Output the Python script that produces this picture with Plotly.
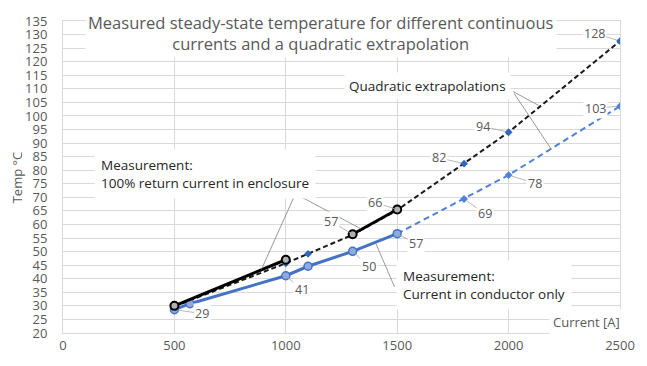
import plotly.graph_objects as go

# ---- data ----
enc_current = [500, 1000, None, 1300, 1500]
enc_temp = [30.0, 47.0, None, 56.4, 65.5]

cond_current = [500, 570, 1000, 1100, 1300, 1500]
cond_temp = [28.6, 30.8, 41.1, 44.6, 50.1, 56.6]

ext_enc_current = [500, 1000, 1100, 1300, 1500, 1800, 2000, 2500]
ext_enc_temp = [29.8, 45.7, 49.2, 56.2, 65.3, 82.4, 94.0, 127.6]

ext_cond_current = [1500, 1800, 2000, 2500]
ext_cond_temp = [56.6, 69.4, 78.2, 103.6]

# data labels: (x, y, text, dx, dy)
label_pts = [
    (500, 28.6, "29", 28, 4),
    (1000, 41.1, "41", 16, 14),
    (1300, 50.1, "50", 16, 15),
    (1500, 56.6, "57", 19, 10),
    (1300, 56.4, "57", -22, -13),
    (1500, 65.5, "66", -22, -7),
    (1800, 82.4, "82", -25, -6),
    (2000, 94.0, "94", -26, -6),
    (2500, 127.6, "128", -26, -8),
    (2500, 103.6, "103", -25, 2),
    (2000, 78.2, "78", 26, 8),
    (1800, 69.4, "69", 21, 15),
]

x_ticks = [0, 500, 1000, 1500, 2000, 2500]

FONT = "Open Sans"
GRAY = "#595959"
GRID = "#d9d9d9"
BLUE = "#4472C4"
LBLUE = "#4F81D8"

fig = go.Figure()

fig.add_trace(go.Scatter(
    x=ext_enc_current, y=ext_enc_temp, mode="lines+markers",
    line=dict(color="#1a1a1a", width=2, dash="5px,3px"),
    marker=dict(symbol="diamond", size=6, color="#3366C0"),
    showlegend=False, hoverinfo="skip"))
fig.add_trace(go.Scatter(
    x=ext_cond_current, y=ext_cond_temp, mode="lines+markers",
    line=dict(color=LBLUE, width=2, dash="6px,4px"),
    marker=dict(symbol="diamond", size=6, color=LBLUE),
    showlegend=False, hoverinfo="skip"))
fig.add_trace(go.Scatter(
    x=cond_current, y=cond_temp, mode="lines+markers",
    line=dict(color=BLUE, width=3),
    marker=dict(symbol="circle", size=8, color="#8FAADC",
                line=dict(color=BLUE, width=1.5)),
    showlegend=False, hoverinfo="skip"))
fig.add_trace(go.Scatter(
    x=enc_current, y=enc_temp, mode="lines+markers",
    line=dict(color="black", width=3),
    marker=dict(symbol="circle", size=8, color="#b0b0b0",
                line=dict(color="black", width=2)),
    connectgaps=False, showlegend=False, hoverinfo="skip"))

annotations = []
for (lx, ly, txt, dx, dy) in label_pts:
    annotations.append(dict(
        x=lx, y=ly, xref="x", yref="y", text=txt, showarrow=True,
        ax=dx, ay=dy, arrowhead=0, arrowwidth=0.8, arrowcolor="#a6a6a6",
        standoff=3, font=dict(family=FONT, size=12.5, color=GRAY),
        bgcolor="white", borderpad=1))

# title
annotations.append(dict(
    x=0.463, y=0.963, xref="paper", yref="paper", xanchor="center", yanchor="middle",
    text="Measured steady-state temperature for different continuous<br>currents and a quadratic extrapolation",
    showarrow=False, align="center",
    font=dict(family=FONT, size=16.5, color=GRAY),
    bgcolor="white", borderpad=2))

# callout texts
annotations.append(dict(
    x=138, y=78.6, xref="x", yref="y", xanchor="left", yanchor="middle",
    text="Measurement:<br>100% return current in enclosure", showarrow=False,
    align="left", font=dict(family=FONT, size=13.5, color="#262626"),
    bgcolor="white", borderpad=6))
annotations.append(dict(
    x=1495, y=37.8, xref="x", yref="y", xanchor="left", yanchor="middle",
    text="Measurement:<br>Current in conductor only", showarrow=False,
    align="left", font=dict(family=FONT, size=13.5, color="#262626"),
    bgcolor="white", borderpad=6))
annotations.append(dict(
    x=1635, y=110.9, xref="x", yref="y", xanchor="center", yanchor="middle",
    text="Quadratic extrapolations", showarrow=False,
    font=dict(family=FONT, size=13.5, color="#262626"),
    bgcolor="white", borderpad=4))

# axis titles
annotations.append(dict(
    x=0.939, y=0.034, xref="paper", yref="paper", xanchor="center", yanchor="middle",
    text="Current [A]", showarrow=False,
    font=dict(family=FONT, size=13, color=GRAY), bgcolor="white", borderpad=3))
annotations.append(dict(
    x=-0.082, y=0.5, xref="paper", yref="paper", xanchor="center", yanchor="middle",
    text="Temp °C", textangle=-90, showarrow=False,
    font=dict(family=FONT, size=13, color=GRAY)))

# callout leader lines
leader = dict(color="#7f7f7f", width=0.8)
shapes = [
    dict(type="line", xref="x", yref="y", x0=1043, y0=71.3, x1=891, y1=43.5, line=leader),
    dict(type="line", xref="x", yref="y", x0=1043, y0=71.3, x1=1337, y1=58.4, line=leader),
    dict(type="line", xref="x", yref="y", x0=1404, y0=53.0, x1=1488, y1=37.0, line=leader),
    dict(type="line", xref="x", yref="y", x0=2020, y0=109.0, x1=2134, y1=103.9, line=leader),
    dict(type="line", xref="x", yref="y", x0=2025, y0=108.3, x1=2192, y1=87.7, line=leader),
]

fig.update_layout(
    width=647, height=366,
    margin=dict(l=63, r=23, t=14, b=24),
    plot_bgcolor="white", paper_bgcolor="white",
    annotations=annotations, shapes=shapes,
    xaxis=dict(range=[0, 2500], tickvals=x_ticks, showgrid=True, gridcolor=GRID,
               gridwidth=1, zeroline=False, showline=True, linecolor=GRID,
               mirror=True, ticks="", tickfont=dict(family=FONT, size=13, color=GRAY)),
    yaxis=dict(range=[20, 135], dtick=5, tick0=20, showgrid=True, gridcolor=GRID,
               gridwidth=1, zeroline=False, showline=True, linecolor=GRID,
               mirror=True, ticks="", ticklabelstandoff=12,
               tickfont=dict(family=FONT, size=13, color=GRAY)),
)

fig.write_html("out.html")
